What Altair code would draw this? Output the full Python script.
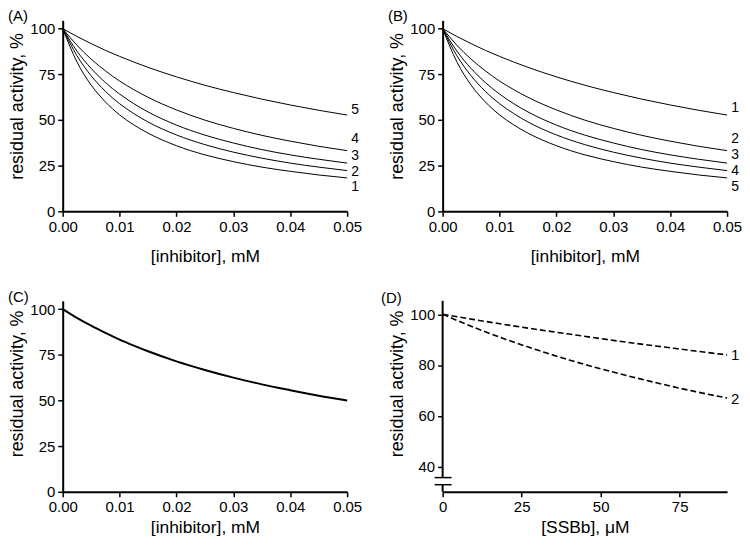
import altair as alt
import pandas as pd

# ---------------- data ----------------
inhib_x = [0, 0.0025, 0.005, 0.0075, 0.01, 0.0125, 0.015, 0.02, 0.025, 0.03, 0.035, 0.04, 0.045, 0.05]
# curves from lowest to highest
curve_low1 = [100, 81.8, 69.1, 59.9, 52.8, 47.3, 42.8, 35.9, 30.9, 27.2, 24.2, 21.9, 19.9, 18.3]
curve_low2 = [100, 85.2, 74.2, 65.7, 58.9, 53.5, 48.9, 41.8, 36.5, 32.4, 29.1, 26.4, 24.2, 22.3]
curve_mid3 = [100, 87.7, 78.2, 70.5, 64.2, 58.9, 54.4, 47.2, 41.7, 37.4, 33.8, 30.9, 28.5, 26.4]
curve_up4 = [100, 90.9, 83.3, 76.9, 71.3, 66.6, 62.4, 55.5, 49.9, 45.4, 41.6, 38.4, 35.6, 33.2]
curve_top5 = [100, 95.7, 91.8, 88.1, 84.8, 81.7, 78.8, 73.6, 69.0, 65.0, 61.4, 58.2, 55.3, 52.7]
curves_ab = [curve_low1, curve_low2, curve_mid3, curve_up4, curve_top5]

labels_a = ["1", "2", "3", "4", "5"]
label_y_a = [13.2, 21.6, 30.0, 39.4, 55.7]
labels_b = ["5", "4", "3", "2", "1"]
label_y_b = [13.2, 21.8, 30.9, 39.4, 56.6]

curve_c = [100, 95.2, 90.9, 87.0, 83.3, 80.0, 76.9, 71.4, 66.7, 62.5, 58.8, 55.6, 52.6, 50.0]

ssb_x = [0, 10, 20, 30, 40, 50, 60, 70, 80, 90]
ssb_1 = [100, 97.9, 95.9, 94.0, 92.2, 90.4, 88.7, 87.1, 85.5, 84.0]
ssb_2 = [100, 94.8, 90.1, 85.9, 82.0, 78.5, 75.3, 72.3, 69.5, 67.0]
labels_d = ["1", "2"]
label_y_d = [84.0, 66.4]

inhib_ticks = [0, 0.01, 0.02, 0.03, 0.04, 0.05]
pct_ticks = [0, 25, 50, 75, 100]
ssb_ticks = [0, 25, 50, 75]
pct_ticks_d = [40, 60, 80, 100]
break_lo, break_hi = 32.8, 35.6
d_ymin, d_ymax = 30, 105.3

FONT = "Liberation Sans"
W, H = 286, 192
LABEL_FS = 14


def yaxis(values, ty, domain=True):
    return alt.Axis(values=values, title="residual activity, %", titleX=-45, titleY=ty,
                    titleAngle=270, titleAlign="center", titleBaseline="middle",
                    titleFontSize=18, labelPadding=3, domain=domain)


def xaxis(values, fmt, title, ty):
    return alt.Axis(values=values, format=fmt, title=title, titleY=ty,
                    titleBaseline="middle", titleFontSize=17.5, labelPadding=3,
                    labelFlush=False)


def panel_label(txt, dx, dy):
    return alt.Chart(alt.Data(values=[{"t": txt}])).mark_text(
        align="left", baseline="middle", fontSize=15, font=FONT, color="black"
    ).encode(x=alt.value(dx), y=alt.value(dy), text="t:N")


def inhib_panel(curves, labels, label_ys, tag, ty, tty, width):
    rows = []
    for i, c in enumerate(curves):
        for xv, yv in zip(inhib_x, c):
            rows.append({"x": xv, "y": yv, "s": i})
    df = pd.DataFrame(rows)
    xs = alt.Scale(domain=[0, 0.05], nice=False)
    ys = alt.Scale(domain=[0, 104.5], nice=False)
    lines = alt.Chart(df).mark_line(color="black", strokeWidth=width, interpolate="monotone").encode(
        x=alt.X("x:Q", scale=xs, axis=xaxis(inhib_ticks, ".2f", "[inhibitor], mM", ty)),
        y=alt.Y("y:Q", scale=ys, axis=yaxis(pct_ticks, tty)),
        detail="s:N",
    )
    layers = [lines]
    if labels:
        ldf = pd.DataFrame({"x": [inhib_x[-1]] * len(labels), "y": label_ys, "t": labels})
        layers.append(alt.Chart(ldf).mark_text(align="center", baseline="middle", dx=8,
                                               fontSize=LABEL_FS, font=FONT, color="black").encode(
            x="x:Q", y="y:Q", text="t:N"))
    layers.append(panel_label(tag, -55, -4))
    return alt.layer(*layers).properties(width=W, height=H)


pA = inhib_panel(curves_ab, labels_a, label_y_a, "(A)", 45, 86, 1)
pB = inhib_panel(curves_ab, labels_b, label_y_b, "(B)", 45, 86, 1)
pC = inhib_panel([curve_c], None, None, "(C)", 36, 83, 2)

# panel D
rows = []
for i, c in enumerate([ssb_1, ssb_2]):
    for xv, yv in zip(ssb_x, c):
        rows.append({"x": xv, "y": yv, "s": i})
dfd = pd.DataFrame(rows)
xsd = alt.Scale(domain=[0, 90], nice=False)
ysd = alt.Scale(domain=[d_ymin, d_ymax], nice=False)
lines_d = alt.Chart(dfd).mark_line(color="black", strokeWidth=1.6, strokeDash=[6, 3],
                                   interpolate="monotone").encode(
    x=alt.X("x:Q", scale=xsd, axis=xaxis(ssb_ticks, "d", "[SSBb], μM", 36)),
    y=alt.Y("y:Q", scale=ysd, axis=yaxis(pct_ticks_d, 83, domain=False)),
    detail="s:N",
)
ldf_d = pd.DataFrame({"x": [ssb_x[-1]] * 2, "y": label_y_d, "t": labels_d})
labels_dm = alt.Chart(ldf_d).mark_text(align="center", baseline="middle", dx=8, fontSize=15,
                                       font=FONT, color="black").encode(x="x:Q", y="y:Q", text="t:N")
axis_seg = pd.DataFrame({"y": [break_hi, d_ymin], "y2": [d_ymax, break_lo]})
axis_rules = alt.Chart(axis_seg).mark_rule(color="black", strokeWidth=2).encode(
    x=alt.value(0), y=alt.Y("y:Q", scale=ysd), y2="y2:Q")
brk = pd.DataFrame({"y": [break_lo, break_hi]})
break_rules = alt.Chart(brk).mark_rule(color="black", strokeWidth=1.5).encode(
    x=alt.value(-8), x2=alt.value(9), y=alt.Y("y:Q", scale=ysd))
pD = alt.layer(lines_d, labels_dm, axis_rules, break_rules, panel_label("(D)", -62, -3)).properties(
    width=W, height=H)

chart = alt.concat(pA, pB, pC, pD, columns=2, spacing={"row": 90, "column": 96},
                   bounds="flush").properties(padding=0).configure_view(strokeWidth=0).configure_axis(
    grid=False, domainColor="black", domainWidth=2, tickColor="black", tickWidth=1.5, tickSize=5,
    labelFont=FONT, labelFontSize=15, labelColor="black", titleFont=FONT,
    titleFontWeight="normal", titleColor="black", zindex=0,
)

chart.save("out.html", embed_options={"renderer": "svg", "actions": False})
